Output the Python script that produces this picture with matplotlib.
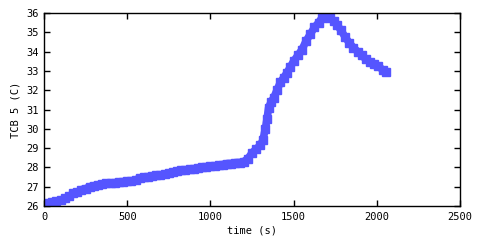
import numpy as np
import matplotlib
matplotlib.use('Agg')
import matplotlib.pyplot as plt

# time (s) and TCB 5 temperature (C)
TIME = [0, 25, 50, 75, 100, 125, 150, 175, 200, 225, 250, 275, 300, 325, 350,
        375, 400, 425, 450, 475, 500, 525, 550, 575, 600, 625, 650, 675, 700,
        725, 750, 775, 800, 825, 850, 875, 900, 925, 950, 975, 1000, 1025,
        1050, 1075, 1100, 1125, 1150, 1175, 1200, 1225, 1250, 1275, 1300,
        1315, 1330, 1340, 1350, 1365, 1380, 1400, 1420, 1440, 1460, 1480,
        1500, 1525, 1550, 1575, 1600, 1625, 1650, 1670, 1690, 1705, 1720,
        1740, 1760, 1785, 1810, 1835, 1860, 1885, 1910, 1935, 1960, 1985,
        2010, 2035, 2055]
TCB5 = [26.1, 26.15, 26.2, 26.25, 26.3, 26.4, 26.5, 26.65, 26.7, 26.85, 26.9,
        27.0, 27.05, 27.1, 27.15, 27.2, 27.2, 27.2, 27.25, 27.25, 27.3, 27.3,
        27.35, 27.45, 27.5, 27.5, 27.55, 27.6, 27.6, 27.65, 27.7, 27.75, 27.8,
        27.85, 27.85, 27.9, 27.9, 27.95, 28.0, 28.0, 28.05, 28.05, 28.1,
        28.15, 28.2, 28.2, 28.25, 28.25, 28.3, 28.45, 28.75, 28.95, 29.15,
        29.4, 30.0, 30.5, 31.1, 31.4, 31.6, 32.0, 32.4, 32.65, 32.9, 33.2,
        33.5, 33.8, 34.1, 34.55, 34.9, 35.25, 35.5, 35.75, 35.85, 35.9,
        35.75, 35.6, 35.4, 35.1, 34.75, 34.45, 34.2, 34.0, 33.8, 33.6, 33.45,
        33.35, 33.25, 33.05, 32.95]

XTICKS = [0, 500, 1000, 1500, 2000, 2500]
YTICKS = list(range(26, 37))

plt.rcParams['font.family'] = ['DejaVu Sans Mono']

fig = plt.figure(figsize=(4.8, 2.4), dpi=100)
fig.patch.set_facecolor('white')
ax = fig.add_axes([0.0917, 0.1417, 0.8666, 0.8041])

ax.plot(TIME, TCB5, color='#5555ff', lw=5.5, marker='s', ms=6,
        mec='#5555ff', mfc='#5555ff', solid_capstyle='butt', clip_on=True)

ax.set_xlim(0, 2500)
ax.set_ylim(26, 36)
ax.set_xticks(XTICKS)
ax.set_yticks(YTICKS)
ax.tick_params(direction='in', length=4, width=1, top=True, right=True,
               labelsize=7.5, pad=4)
for sp in ax.spines.values():
    sp.set_linewidth(1)
    sp.set_zorder(3)

ax.set_xlabel('time (s)', fontsize=7.5, labelpad=3)
ax.set_ylabel('TCB 5 (C)', fontsize=7.5, labelpad=4)

fig.savefig('out.png', dpi=100, facecolor='white')
